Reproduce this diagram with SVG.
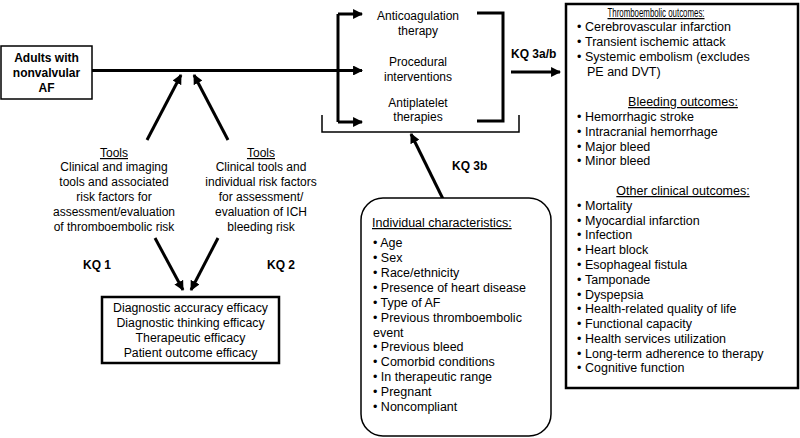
<svg xmlns="http://www.w3.org/2000/svg" width="800" height="438" viewBox="0 0 800 438">
<style>
text{font-family:"Liberation Sans",Arial,sans-serif;font-size:12px;fill:#000}
.b{font-weight:bold}
.c{text-anchor:middle}
.u{text-decoration:underline}
.m{font-size:12.5px}
.e{font-size:12.3px}
.box{fill:#fff;stroke:#000}
.ln{fill:none;stroke:#000;stroke-width:3}
.th{fill:none;stroke:#000;stroke-width:1.5}
</style>
<defs>
<marker id="ah" viewBox="0 0 10 10" refX="9" refY="5" markerWidth="3.3" markerHeight="3.3" orient="auto" markerUnits="strokeWidth">
<path d="M0,0 L10,5 L0,10 z" fill="#000"/>
</marker>
</defs>
<rect width="800" height="438" fill="#fff"/>
<g id="connectors">
<path class="ln" d="M92,70.5 H338"/>
<path class="ln" d="M338,14 V122"/>
<path class="ln" d="M338,14 H362" marker-end="url(#ah)"/>
<path class="ln" d="M338,70.5 H362" marker-end="url(#ah)"/>
<path class="ln" d="M338,122 H362" marker-end="url(#ah)"/>
<path class="ln" d="M477,13 H503 V121 H477"/>
<path class="th" d="M322,115 V132 H519 V115"/>
<path class="ln" d="M511,72 H560" marker-end="url(#ah)"/>
<path class="ln" d="M147,140 L181,75" marker-end="url(#ah)"/>
<path class="ln" d="M228,140 L194,75" marker-end="url(#ah)"/>
<path class="ln" d="M155,238 L183,290" marker-end="url(#ah)"/>
<path class="ln" d="M218,238 L191,290" marker-end="url(#ah)"/>
<path class="ln" d="M443,199 L411,134" marker-end="url(#ah)"/>
</g>
<g id="adults">
<rect class="box" x="1" y="46" width="91" height="53" stroke-width="1.5"/>
<text class="b c" x="46.5" y="62">Adults with</text>
<text class="b c" x="46.5" y="77">nonvalvular</text>
<text class="b c" x="46.5" y="92">AF</text>
</g>
<g id="interventions">
<text class="c" x="418" y="20">Anticoagulation</text>
<text class="c" x="418" y="35">therapy</text>
<text class="c" x="418" y="66">Procedural</text>
<text class="c" x="418" y="81">interventions</text>
<text class="c" x="418" y="107">Antiplatelet</text>
<text class="c" x="418" y="121">therapies</text>
</g>
<g id="kq3ab"><text class="b" x="511" y="58">KQ 3a/b</text></g>
<g id="outcomes" class="m">
<rect class="box" x="566" y="4" width="232" height="384" stroke-width="2.5"/>
<text class="c u m" x="656" y="17" textLength="97" lengthAdjust="spacingAndGlyphs">Thromboembolic outcomes:</text>
<text class="m" x="577" y="31">•</text><text class="m" x="585" y="31">Cerebrovascular infarction</text>
<text class="m" x="577" y="46">•</text><text class="m" x="585" y="46">Transient ischemic attack</text>
<text class="m" x="577" y="61">•</text><text class="m" x="585" y="61">Systemic embolism (excludes</text>
<text class="m" x="587" y="76">PE and DVT)</text>
<text class="c u m" x="683" y="106">Bleeding outcomes:</text>
<text class="m" x="577" y="121">•</text><text class="m" x="585" y="121">Hemorrhagic stroke</text>
<text class="m" x="577" y="136">•</text><text class="m" x="585" y="136">Intracranial hemorrhage</text>
<text class="m" x="577" y="151">•</text><text class="m" x="585" y="151">Major bleed</text>
<text class="m" x="577" y="165">•</text><text class="m" x="585" y="165">Minor bleed</text>
<text class="c u m" x="683" y="195">Other clinical outcomes:</text>
<text class="m" x="577" y="210">•</text><text class="m" x="585" y="210">Mortality</text>
<text class="m" x="577" y="225">•</text><text class="m" x="585" y="225">Myocardial infarction</text>
<text class="m" x="577" y="239">•</text><text class="m" x="585" y="239">Infection</text>
<text class="m" x="577" y="254">•</text><text class="m" x="585" y="254">Heart block</text>
<text class="m" x="577" y="269">•</text><text class="m" x="585" y="269">Esophageal fistula</text>
<text class="m" x="577" y="284">•</text><text class="m" x="585" y="284">Tamponade</text>
<text class="m" x="577" y="299">•</text><text class="m" x="585" y="299">Dyspepsia</text>
<text class="m" x="577" y="313">•</text><text class="m" x="585" y="313">Health-related quality of life</text>
<text class="m" x="577" y="328">•</text><text class="m" x="585" y="328">Functional capacity</text>
<text class="m" x="577" y="343">•</text><text class="m" x="585" y="343">Health services utilization</text>
<text class="m" x="577" y="358">•</text><text class="m" x="585" y="358">Long-term adherence to therapy</text>
<text class="m" x="577" y="372">•</text><text class="m" x="585" y="372">Cognitive function</text>
</g>
<g id="tools1">
<text class="c u" x="114" y="157">Tools</text>
<text class="c" x="114" y="171">Clinical and imaging</text>
<text class="c" x="114" y="186">tools and associated</text>
<text class="c" x="114" y="201">risk factors for</text>
<text class="c" x="114" y="216">assessment/evaluation</text>
<text class="c" x="114" y="231">of thromboembolic risk</text>
</g>
<g id="tools2">
<text class="c u" x="261" y="157">Tools</text>
<text class="c" x="261" y="171">Clinical tools and</text>
<text class="c" x="261" y="186">individual risk factors</text>
<text class="c" x="261" y="201">for assessment/</text>
<text class="c" x="261" y="216">evaluation of ICH</text>
<text class="c" x="261" y="231">bleeding risk</text>
</g>
<g id="kq1"><text class="b c" x="97" y="269">KQ 1</text></g>
<g id="kq2"><text class="b c" x="281" y="269">KQ 2</text></g>
<g id="efficacy">
<rect class="box" x="102" y="297" width="177" height="66" stroke-width="2.5"/>
<text class="c e" x="190.5" y="312">Diagnostic accuracy efficacy</text>
<text class="c e" x="190.5" y="327">Diagnostic thinking efficacy</text>
<text class="c e" x="190.5" y="342">Therapeutic efficacy</text>
<text class="c e" x="190.5" y="357">Patient outcome efficacy</text>
</g>
<g id="kq3b"><text class="b" x="452" y="170">KQ 3b</text></g>
<g id="characteristics">
<rect class="box" x="361" y="198" width="190" height="238" rx="22" ry="22" stroke-width="1.5"/>
<text class="u m" x="372" y="227">Individual characteristics:</text>
<text class="m" x="373" y="247">• Age</text>
<text class="m" x="373" y="262">• Sex</text>
<text class="m" x="373" y="277">• Race/ethnicity</text>
<text class="m" x="373" y="292">• Presence of heart disease</text>
<text class="m" x="373" y="307">• Type of AF</text>
<text class="m" x="373" y="322">• Previous thromboembolic</text>
<text class="m" x="373" y="337">event</text>
<text class="m" x="373" y="351">• Previous bleed</text>
<text class="m" x="373" y="366">• Comorbid conditions</text>
<text class="m" x="373" y="381">• In therapeutic range</text>
<text class="m" x="373" y="396">• Pregnant</text>
<text class="m" x="373" y="411">• Noncompliant</text>
</g>
</svg>
